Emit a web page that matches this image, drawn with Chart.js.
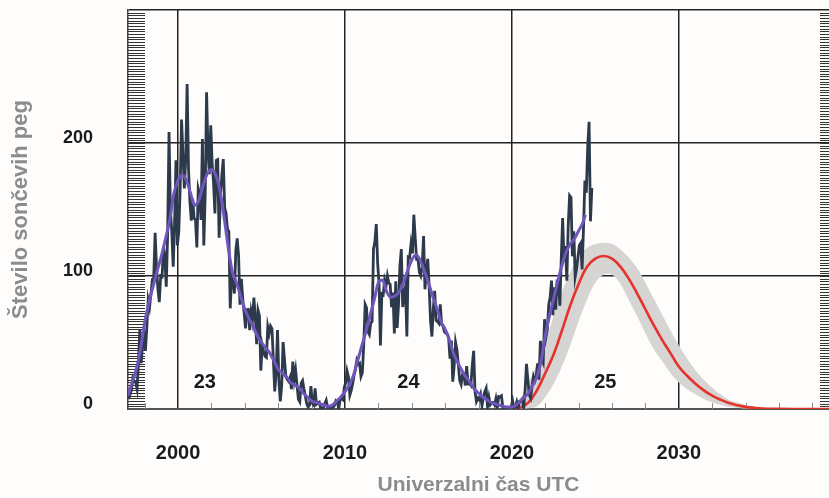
<!DOCTYPE html>
<html>
<head>
<meta charset="utf-8">
<script src="https://cdn.jsdelivr.net/npm/chart.js@4.4.1/dist/chart.umd.min.js"></script>
<style>
  html, body { margin: 0; padding: 0; background: #fefdfb; }
  #wrap { width: 829px; height: 498px; }
</style>
</head>
<body>
<div id="wrap"><canvas id="sunChart"></canvas></div>
<script>
// monthly mean sunspot number, Jan 1997 .. Oct 2024
const monthlyStartYear = 1997;
const monthlySunspots = [
  7.4, 11.0, 14.3, 23.0, 20.5, 20.2, 15.2, 34.5, 59.4, 34.4, 50.3, 56.2,
  43.7, 60.5, 82.0, 76.6, 86.4, 97.5, 98.6, 132.4, 106.3, 90.4, 80.3, 100.2,
  99.6, 122.0, 114.0, 92.0, 132.0, 208.2, 150.0, 133.0, 107.0, 140.0, 187.0, 123.0,
  133.1, 165.7, 217.7, 191.5, 165.9, 188.0, 244.3, 180.5, 156.0, 141.6, 158.1, 143.3,
  142.6, 121.5, 165.8, 161.7, 142.1, 202.9, 123.0, 161.5, 238.2, 194.1, 176.6, 213.4,
  184.6, 170.2, 147.1, 186.9, 187.5, 128.8, 161.0, 175.6, 187.9, 151.2, 147.2, 135.3,
  133.5, 75.7, 100.7, 97.9, 86.8, 118.7, 128.3, 115.4, 78.5, 97.8, 82.9, 72.2,
  60.6, 74.6, 74.8, 59.2, 72.8, 66.5, 83.8, 69.7, 48.8, 74.2, 70.1, 28.9,
  48.1, 43.5, 39.6, 38.7, 61.9, 56.8, 62.4, 60.5, 37.2, 13.2, 27.5, 59.3,
  20.9, 5.7, 17.3, 50.3, 37.2, 24.5, 22.2, 20.8, 23.7, 14.9, 35.7, 22.3,
  29.3, 18.4, 7.2, 5.4, 19.5, 21.3, 15.1, 9.8, 4.0, 1.5, 2.8, 17.3,
  4.1, 2.9, 15.5, 3.6, 4.6, 5.2, 0.6, 0.3, 1.2, 4.2, 6.6, 1.0,
  1.3, 1.2, 0.6, 1.2, 2.9, 6.3, 5.5, 0.0, 7.1, 7.7, 6.9, 16.3,
  19.5, 28.5, 24.0, 10.4, 13.9, 18.8, 25.2, 29.6, 36.4, 33.6, 34.4, 24.5,
  27.3, 48.3, 78.6, 76.1, 58.2, 56.1, 64.5, 65.8, 120.1, 125.7, 139.1, 109.3,
  94.4, 47.8, 86.6, 85.9, 96.5, 92.0, 100.1, 94.8, 93.7, 76.5, 87.6, 56.8,
  96.1, 60.9, 78.3, 107.3, 120.2, 76.7, 86.2, 91.8, 54.5, 114.4, 113.9, 124.2,
  117.0, 146.1, 128.7, 112.5, 112.5, 102.9, 100.2, 106.9, 130.0, 90.0, 103.6, 112.9,
  93.0, 66.7, 54.5, 75.3, 88.8, 66.5, 65.8, 64.4, 78.6, 63.6, 62.2, 58.0,
  57.0, 56.4, 54.1, 37.9, 51.5, 20.5, 32.4, 50.2, 44.6, 33.4, 21.4, 18.5,
  26.1, 26.4, 17.7, 32.3, 18.9, 19.2, 17.8, 32.6, 43.7, 13.2, 5.7, 8.2,
  6.8, 10.7, 2.5, 8.9, 13.1, 15.6, 1.6, 8.7, 3.3, 4.9, 4.9, 3.1,
  7.7, 0.8, 9.4, 9.1, 9.9, 1.2, 0.9, 0.5, 1.1, 0.4, 0.5, 1.5,
  6.2, 0.2, 1.5, 5.2, 0.2, 5.8, 6.1, 7.5, 0.6, 14.4, 34.0, 21.8,
  10.4, 8.2, 17.2, 24.5, 21.2, 25.0, 34.3, 22.0, 51.3, 37.4, 34.8, 67.5,
  54.0, 59.7, 78.5, 84.1, 96.5, 70.5, 91.4, 74.6, 96.0, 95.5, 77.6, 113.1,
  143.6, 110.9, 122.6, 96.4, 137.4, 160.5, 159.1, 114.8, 133.6, 99.4, 105.4, 114.2,
  123.0, 124.7, 104.9, 136.5, 171.7, 162.6, 196.6, 216.0, 141.1, 166.3
];

// smoothed sunspot number
const smoothYears = [
  1997.0, 1997.25, 1997.5, 1997.75, 1998.0, 1998.25, 1998.5, 1998.75,
  1999.0, 1999.25, 1999.5, 1999.75, 2000.0, 2000.25, 2000.5, 2000.75,
  2001.0, 2001.25, 2001.5, 2001.75, 2002.0, 2002.25, 2002.5, 2002.75,
  2003.0, 2003.25, 2003.5, 2003.75, 2004.0, 2004.25, 2004.5, 2004.75,
  2005.0, 2005.25, 2005.5, 2005.75, 2006.0, 2006.25, 2006.5, 2006.75,
  2007.0, 2007.25, 2007.5, 2007.75, 2008.0, 2008.25, 2008.5, 2008.75,
  2009.0, 2009.25, 2009.5, 2009.75, 2010.0, 2010.25, 2010.5, 2010.75,
  2011.0, 2011.25, 2011.5, 2011.75, 2012.0, 2012.25, 2012.5, 2012.75,
  2013.0, 2013.25, 2013.5, 2013.75, 2014.0, 2014.25, 2014.5, 2014.75,
  2015.0, 2015.25, 2015.5, 2015.75, 2016.0, 2016.25, 2016.5, 2016.75,
  2017.0, 2017.25, 2017.5, 2017.75, 2018.0, 2018.25, 2018.5, 2018.75,
  2019.0, 2019.25, 2019.5, 2019.75, 2020.0, 2020.25, 2020.5, 2020.75,
  2021.0, 2021.25, 2021.5, 2021.75, 2022.0, 2022.25, 2022.5, 2022.75,
  2023.0, 2023.25, 2023.5, 2023.75, 2024.0, 2024.25, 2024.4
];
const smoothValues = [
  10, 20, 30, 45, 65, 80, 92, 104,
  115, 128, 142, 162, 172, 176, 172, 162,
  153, 157, 168, 177, 180, 176, 165, 145,
  122, 103, 95, 85, 75, 68, 62, 55,
  50, 46, 42, 36, 30, 27, 24, 20,
  18, 16, 12, 9, 6, 5, 4, 3,
  2, 3, 6, 9, 13, 18, 25, 36,
  47, 58, 70, 82, 95, 97, 88, 84,
  85, 88, 95, 104, 112, 116, 112, 104,
  95, 85, 76, 66, 60, 52, 42, 35,
  29, 24, 20, 15, 12, 9, 7, 5,
  4, 3, 2, 1.5, 1.5, 3, 6, 9,
  12, 18, 24, 36, 55, 70, 83, 96,
  108, 118, 124, 128, 134, 140, 146
];

// predicted cycle 25 with uncertainty band
const predYears = [
  2020.0, 2020.5, 2021.0, 2021.5, 2022.0, 2022.5, 2023.0, 2023.5, 2024.0, 2024.5,
  2025.0, 2025.5, 2026.0, 2026.5, 2027.0, 2027.5, 2028.0, 2028.5, 2029.0, 2029.5,
  2030.0, 2030.5, 2031.0, 2031.5, 2032.0, 2032.5, 2033.0, 2033.5, 2034.0, 2034.5,
  2035.0, 2036.0, 2037.0, 2038.0, 2039.0
];
const predValues = [
  0, 1, 5, 14, 27, 41, 59, 78, 94, 107,
  113, 115, 113, 107, 98, 87, 75, 63, 52, 42,
  32, 25, 19, 14, 10, 7, 4.5, 2.8, 1.6, 0.9,
  0.4, 0.1, 0, 0, 0
];
const predUpper = [
  3, 8, 20, 33, 50, 70, 88, 103, 114, 121,
  124, 125, 124, 120, 114, 106, 95, 83, 71, 59,
  48, 38, 29, 22, 16, 11, 7, 5, 3, 2,
  1, 0.5, 0, 0, 0
];
const predLower = [
  0, 0, 0.5, 2, 9, 19, 32, 48, 66, 82,
  95, 101, 101, 94, 82, 70, 57, 45, 36, 27,
  20, 15, 11, 7.5, 5, 3, 1.5, 0.8, 0.3, 0,
  0, 0, 0, 0, 0
];

const xTickYears = [2000, 2010, 2020, 2030];
const yTickValues = [0, 100, 200];
const cycleNames = ["23", "24", "25"];
const cycleYears = [2001.6, 2013.8, 2025.6];

const FONT = "'Liberation Sans', Arial, Helvetica, sans-serif";

function pairs(xs, ys) {
  return xs.map((x, i) => ({ x: x, y: ys[i] }));
}

const monthlyPoints = monthlySunspots.map((v, i) => ({
  x: monthlyStartYear + (i + 0.5) / 12,
  y: v
}));

const frameTicks = {
  id: "frameTicks",
  beforeDatasetsDraw(chart) {
    const { ctx, chartArea, scales } = chart;
    ctx.save();
    ctx.strokeStyle = "#333";
    ctx.lineWidth = 1;
    ctx.beginPath();
    for (let v = 2; v < 300; v += 2) {
      const py = Math.round(scales.y.getPixelForValue(v)) + 0.5;
      ctx.moveTo(chartArea.left, py);
      ctx.lineTo(chartArea.left + 17, py);
      ctx.moveTo(chartArea.right - 9, py);
      ctx.lineTo(chartArea.right, py);
    }
    ctx.stroke();

    ctx.strokeStyle = "#8a8a8a";
    ctx.beginPath();
    for (let yr = 1998; yr < 2039; yr += 2) {
      if (yr % 10 === 0) continue;
      const px = Math.round(scales.x.getPixelForValue(yr)) + 0.5;
      ctx.moveTo(px, chartArea.bottom);
      ctx.lineTo(px, chartArea.bottom - 6);
    }
    ctx.stroke();
    ctx.restore();
  },
  afterDatasetsDraw(chart) {
    const { ctx, scales } = chart;
    ctx.save();
    ctx.font = "bold 20px " + FONT;
    ctx.fillStyle = "#1a1a1a";
    ctx.textAlign = "center";
    ctx.textBaseline = "middle";
    cycleNames.forEach((name, i) => {
      ctx.fillText(name, scales.x.getPixelForValue(cycleYears[i]), scales.y.getPixelForValue(20));
    });
    ctx.restore();
  }
};

new Chart(document.getElementById("sunChart"), {
  type: "line",
  data: {
    datasets: [
      {
        label: "Glajeno",
        data: pairs(smoothYears, smoothValues),
        borderColor: "#6f55bd",
        borderWidth: 3,
        pointRadius: 0,
        cubicInterpolationMode: "monotone",
        order: 0
      },
      {
        label: "Mesečno",
        data: monthlyPoints,
        borderColor: "#2c3a4c",
        borderWidth: 2.8,
        pointRadius: 0,
        tension: 0,
        order: 1
      },
      {
        label: "Napoved",
        data: pairs(predYears, predValues),
        borderColor: "#e5322a",
        borderWidth: 2.6,
        pointRadius: 0,
        tension: 0.4,
        order: 2
      },
      {
        label: "Zgornja meja",
        data: pairs(predYears, predUpper),
        borderColor: "rgba(0,0,0,0)",
        borderWidth: 0,
        backgroundColor: "#d6d5d4",
        fill: "+1",
        pointRadius: 0,
        tension: 0.4,
        order: 3
      },
      {
        label: "Spodnja meja",
        data: pairs(predYears, predLower),
        borderColor: "rgba(0,0,0,0)",
        borderWidth: 0,
        pointRadius: 0,
        tension: 0.4,
        order: 4
      }
    ]
  },
  options: {
    responsive: true,
    maintainAspectRatio: false,
    animation: false,
    layout: { padding: { top: 10, right: 0, bottom: 0, left: 0 } },
    plugins: {
      legend: { display: false },
      tooltip: { enabled: false }
    },
    scales: {
      x: {
        type: "linear",
        min: 1997,
        max: 2039,
        afterBuildTicks: scale => {
          scale.ticks = xTickYears.map(v => ({ value: v }));
        },
        afterFit: scale => {
          scale.height = 89;
          scale.paddingLeft = 0;
          scale.paddingRight = 0;
        },
        grid: { color: "#222", lineWidth: 1.5, drawTicks: false },
        border: { display: true, color: "#555", width: 2 },
        ticks: {
          color: "#1a1a1a",
          padding: 32,
          maxRotation: 0,
          font: { family: FONT, size: 20, weight: "bold" },
          callback: value => String(value)
        },
        title: {
          display: true,
          text: "Univerzalni čas UTC",
          color: "#8c8c8c",
          padding: { top: 0, bottom: 0 },
          font: { family: FONT, size: 21, weight: "bold" }
        }
      },
      y: {
        type: "linear",
        min: 0,
        max: 300,
        afterBuildTicks: scale => {
          scale.ticks = [0, 100, 200, 300].map(v => ({ value: v }));
        },
        afterFit: scale => {
          scale.width = 128;
          scale.paddingTop = 0;
          scale.paddingBottom = 0;
        },
        grid: { color: "#222", lineWidth: 1.5, drawTicks: false },
        border: { display: true, color: "#444", width: 1.5 },
        ticks: {
          color: "#1a1a1a",
          padding: 35,
          labelOffset: -5,
          font: { family: FONT, size: 18, weight: "bold" },
          callback: value => (yTickValues.includes(value) ? String(value) : "")
        },
        title: {
          display: true,
          text: "Število sončevih peg",
          color: "#8c8c8c",
          padding: { top: 8, bottom: 0 },
          font: { family: FONT, size: 22, weight: "bold" }
        }
      }
    }
  },
  plugins: [frameTicks]
});
</script>
</body>
</html>
